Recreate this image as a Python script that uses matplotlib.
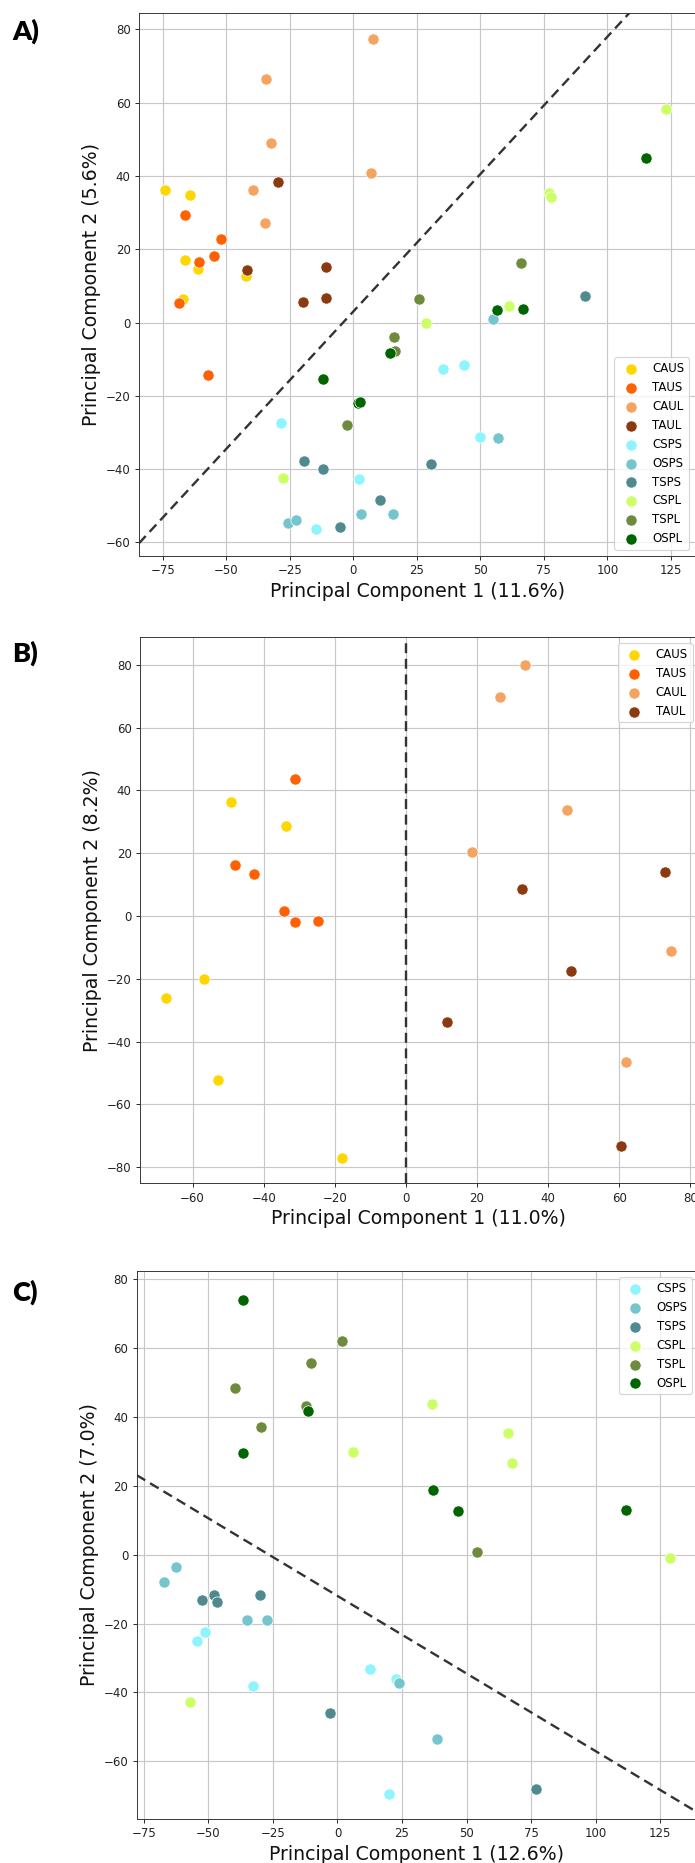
import matplotlib
matplotlib.use('Agg')
import matplotlib.pyplot as plt
import numpy as np

W, H = 695, 1863
DPI = 85

group_order = ['CAUS', 'TAUS', 'CAUL', 'TAUL', 'CSPS', 'OSPS', 'TSPS', 'CSPL', 'TSPL', 'OSPL']
group_colors = ['#FFD700', '#FF6000', '#F4A460', '#8B3A0F', '#8EF5FF',
                '#76C5CC', '#508A8E', '#CCFF66', '#6E8B3D', '#006400']

# ---------------- Panel A ----------------
A_group = (['CAUS'] * 6 + ['TAUS'] * 6 + ['CAUL'] * 6 + ['TAUL'] * 5 + ['CSPS'] * 6 +
           ['OSPS'] * 6 + ['TSPS'] * 6 + ['CSPL'] * 6 + ['TSPL'] * 5 + ['OSPL'] * 7)
A_pc1 = [-74.2, -64.4, -66.2, -61.0, -42.3, -66.9,
         -66.2, -52.2, -60.5, -54.9, -68.7, -57.1,
         -34.5, -32.4, -39.4, -34.9, 7.8, 7.2,
         -29.5, -41.8, -10.9, -19.8, -10.7,
         -28.5, 2.2, -14.7, 35.3, 43.6, 50.0,
         -25.6, -22.7, 3.0, 15.6, 54.9, 56.8,
         -19.3, -11.9, -5.0, 10.6, 30.8, 91.2,
         -27.5, 28.5, 61.3, 77.0, 77.8, 123.0,
         -2.5, 16.1, 16.4, 25.9, 66.1,
         -11.9, 2.0, 2.6, 14.6, 56.4, 66.7, 115.2]
A_pc2 = [36.1, 34.8, 17.2, 14.7, 12.6, 6.5,
         29.4, 22.8, 16.5, 18.1, 5.4, -14.4,
         66.5, 49.1, 36.1, 27.3, 77.4, 40.7,
         38.5, 14.4, 15.1, 5.5, 6.7,
         -27.4, -42.7, -56.2, -12.6, -11.6, -31.1,
         -54.7, -53.9, -52.2, -52.2, 1.0, -31.4,
         -37.9, -40.0, -55.7, -48.4, -38.6, 7.2,
         -42.5, 0.0, 4.5, 35.3, 34.4, 58.3,
         -28.0, -3.8, -7.7, 6.5, 16.3,
         -15.4, -21.9, -21.6, -8.2, 3.5, 3.7, 45.0]
A_line_slope, A_line_intercept = 0.75, 3.0

# ---------------- Panel B ----------------
B_group = ['CAUS'] * 6 + ['TAUS'] * 6 + ['CAUL'] * 6 + ['TAUL'] * 5
B_pc1 = [-49.1, -33.8, -56.9, -67.5, -52.8, -17.9,
         -31.2, -48.1, -42.8, -34.4, -31.2, -24.8,
         33.5, 26.4, 45.4, 18.7, 74.5, 61.9,
         72.9, 32.7, 46.5, 11.6, 60.6]
B_pc2 = [36.4, 28.8, -20.0, -26.0, -52.3, -77.2,
         43.6, 16.1, 13.4, 1.6, -2.0, -1.6,
         80.0, 69.7, 33.7, 20.4, -11.1, -46.4,
         14.1, 8.5, -17.5, -33.7, -73.1]
B_line_x = 0.0

# ---------------- Panel C ----------------
C_group = ['CSPS'] * 6 + ['OSPS'] * 6 + ['TSPS'] * 6 + ['CSPL'] * 6 + ['TSPL'] * 6 + ['OSPL'] * 6
C_pc1 = [-51.5, -54.6, -32.6, 12.7, 22.5, 20.1,
         -62.7, -67.2, -35.1, -27.2, 24.0, 38.6,
         -52.5, -48.0, -46.7, -30.2, -2.9, 76.8,
         5.9, 36.6, 66.0, 67.8, 128.8, -57.1,
         1.6, -10.2, -39.8, -12.1, -29.5, 54.2,
         -36.5, -11.6, -36.5, 37.1, 46.8, 111.7]
C_pc2 = [-22.6, -25.2, -38.0, -33.2, -36.2, -69.4,
         -3.5, -8.0, -19.0, -19.0, -37.3, -53.4,
         -13.2, -11.6, -13.9, -11.6, -46.0, -67.9,
         29.6, 43.6, 35.1, 26.4, -1.1, -42.8,
         61.8, 55.6, 48.3, 43.1, 37.0, 0.8,
         73.9, 41.7, 29.3, 18.7, 12.5, 12.9]
C_line_slope, C_line_intercept = -0.45, -12.0

x_labels = ['Principal Component 1 (11.6%)', 'Principal Component 1 (11.0%)', 'Principal Component 1 (12.6%)']
y_labels = ['Principal Component 2 (5.6%)', 'Principal Component 2 (8.2%)', 'Principal Component 2 (7.0%)']
panel_letters = ['A)', 'B)', 'C)']

color_map = dict(zip(group_order, group_colors))

fig = plt.figure(figsize=(W / DPI, H / DPI), dpi=DPI)


def rect(l, r, t, b):
    return [l / W, 1 - b / H, (r - l) / W, (b - t) / H]


def scatter_groups(ax, pc1, pc2, groups):
    pc1 = np.asarray(pc1)
    pc2 = np.asarray(pc2)
    groups = np.asarray(groups)
    for g in group_order:
        m = groups == g
        if m.any():
            ax.scatter(pc1[m], pc2[m], s=90, color=color_map[g], edgecolor='white',
                       linewidth=0.6, label=g, zorder=3)


def style(ax, i):
    ax.grid(True, color='#c8c8c8', linewidth=1.0, zorder=0)
    ax.set_axisbelow(True)
    ax.tick_params(labelsize=10, colors='#222222')
    ax.set_xlabel(x_labels[i], fontsize=16, color='#111111')
    ax.set_ylabel(y_labels[i], fontsize=16, color='#111111')
    for s in ax.spines.values():
        s.set_color('#333333')


line_kw = dict(color='#333333', linestyle=(0, (4.2, 2.4)), linewidth=2.0, zorder=2)

# Panel A
axA = fig.add_axes(rect(139, 697, 13, 556))
scatter_groups(axA, A_pc1, A_pc2, A_group)
xlA = (-84.3, 135.3)
xs = np.array(xlA)
axA.plot(xs, A_line_slope * xs + A_line_intercept, **line_kw)
axA.set_xlim(*xlA)
axA.set_ylim(-63.7, 84.5)
axA.set_xticks(np.arange(-75, 126, 25))
axA.set_yticks(np.arange(-60, 81, 20))
style(axA, 0)
axA.legend(loc='lower right', bbox_to_anchor=(0.9857, 0.011), borderaxespad=0, fontsize=10)

# Panel B
axB = fig.add_axes(rect(140, 697, 637.3, 1183.3))
scatter_groups(axB, B_pc1, B_pc2, B_group)
axB.axvline(B_line_x, **line_kw)
axB.set_xlim(-74.8, 81.9)
axB.set_ylim(-85.1, 88.75)
axB.set_xticks(np.arange(-60, 81, 20))
axB.set_yticks(np.arange(-80, 81, 20))
style(axB, 1)
axB.legend(loc='upper right', bbox_to_anchor=(0.992, 0.989), borderaxespad=0, fontsize=10)

# Panel C
axC = fig.add_axes(rect(136.7, 697, 1270.7, 1818.7))
scatter_groups(axC, C_pc1, C_pc2, C_group)
xlC = (-77.8, 139.3)
xs = np.array(xlC)
axC.plot(xs, C_line_slope * xs + C_line_intercept, **line_kw)
axC.set_xlim(*xlC)
axC.set_ylim(-76.6, 82.3)
axC.set_xticks(np.arange(-75, 126, 25))
axC.set_yticks(np.arange(-60, 81, 20))
style(axC, 2)
axC.legend(loc='upper right', bbox_to_anchor=(0.9916, 0.988), borderaxespad=0, fontsize=10)

for letter, ytop in zip(panel_letters, [21.7, 643.0, 1282.7]):
    fig.text(12 / W, 1 - (ytop - 3) / H, letter, fontsize=23, fontweight='heavy',
             family=['Lato', 'DejaVu Sans'], va='top', ha='left')

fig.savefig('out.png', dpi=DPI)
